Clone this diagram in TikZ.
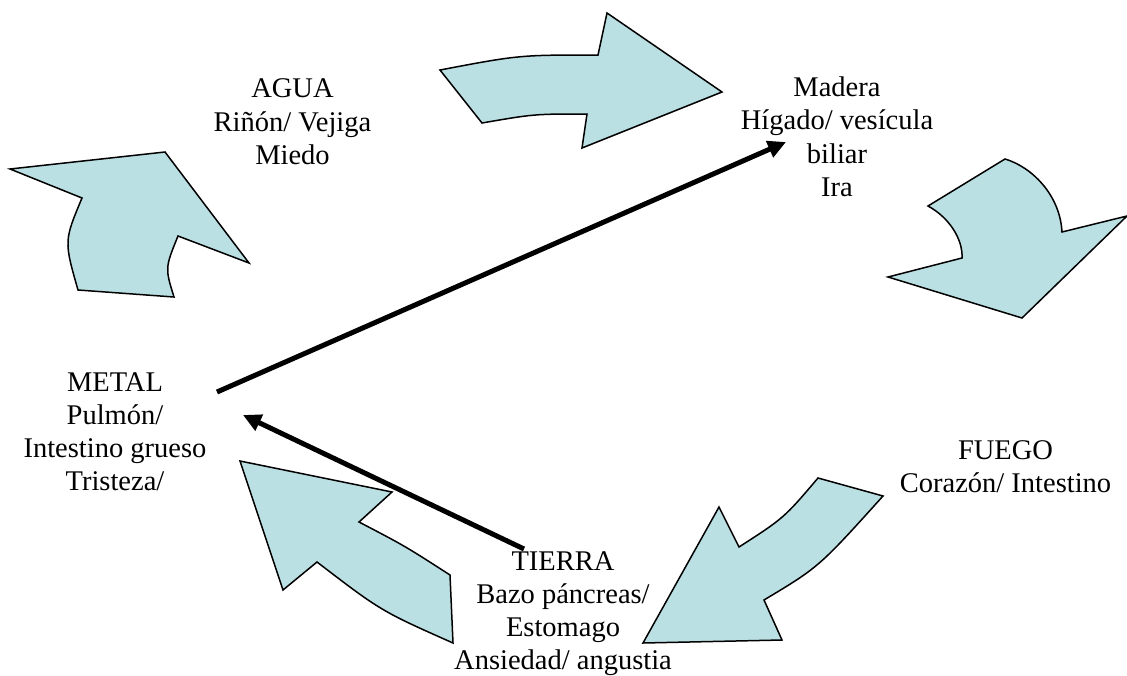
\documentclass[tikz,border=0pt]{standalone}
\usepackage{fontspec}
\setmainfont{Liberation Serif}
\usetikzlibrary{arrows.meta}
\definecolor{petal}{HTML}{BBE0E3}
\tikzset{
  flow/.style={fill=petal, draw=black, line width=1.5pt, line join=miter},
  link/.style={draw=black, line width=5pt, -{Triangle[length=18pt,width=17pt]}},
  element/.style={inner sep=0pt, anchor=base, font=\fontsize{28.5}{33.3}\selectfont},
}
\newcommand{\stack}[1]{\begin{tabular}[t]{@{}c@{}}#1\end{tabular}}
\begin{document}
\begin{tikzpicture}[x=1pt, y=-1pt]
\useasboundingbox (0,0) rectangle (1127,675);

% curved block arrows of the cycle
% Agua (upwards)
\draw[flow] (78,290) .. controls (64,241) .. (82,198) -- (10,169) -- (165,152)
  -- (249,263) -- (178,236) .. controls (165,268) .. (174,297) -- cycle;
% Agua -> Madera (rightwards)
\draw[flow] (440,70) .. controls (519,55) .. (598,55) -- (607,13) -- (722,92)
  -- (582,148) -- (587,114) .. controls (534,114) .. (482,123) -- cycle;
% Madera -> Fuego (downwards)
\draw[flow] (928,206) -- (1005,159) .. controls (1032,167) and (1060,195) .. (1062,232)
  -- (1127,216) -- (1022,318) -- (888,277) -- (962,258)
  .. controls (963,240) and (950,218) .. (928,206) -- cycle;
% Fuego -> Tierra (down-left)
\draw[flow] (818,478) -- (883,496) .. controls (819,567) .. (764,600) -- (782,640)
  -- (643,643) -- (719,507) -- (739,547) .. controls (784,518) .. (818,478) -- cycle;
% Tierra -> Metal (up-left)
\draw[flow] (450,575) -- (453,643) .. controls (381,611) .. (317,562) -- (283,590)
  -- (240,461) -- (392,492) -- (359,522) .. controls (405,546) .. (450,575) -- cycle;

% element labels
\node[element] (agua)   at (292.5,97.7) {\stack{AGUA\\Riñón/ Vejiga\\Miedo}};
\node[element] (madera) at (837,96.5)   {\stack{Madera\\Hígado/ vesícula\\biliar\\Ira}};
\node[element] (metal)  at (115,391)    {\stack{METAL\\Pulmón/\\Intestino grueso\\Tristeza/}};
\node[element] (fuego)  at (1005.5,459) {\stack{FUEGO\\Corazón/ Intestino}};
\node[element] (tierra) at (563,570)    {\stack{TIERRA\\Bazo páncreas/\\Estomago\\Ansiedad/ angustia}};

% control connectors
\coordinate (metalout) at (217,392);
\coordinate (maderain) at (786,142);
\coordinate (tierraout) at (524,549);
\coordinate (metalin) at (243,415);
\draw[link] (metalout) -- (maderain);
\draw[link] (tierraout) -- (metalin);
\end{tikzpicture}
\end{document}
